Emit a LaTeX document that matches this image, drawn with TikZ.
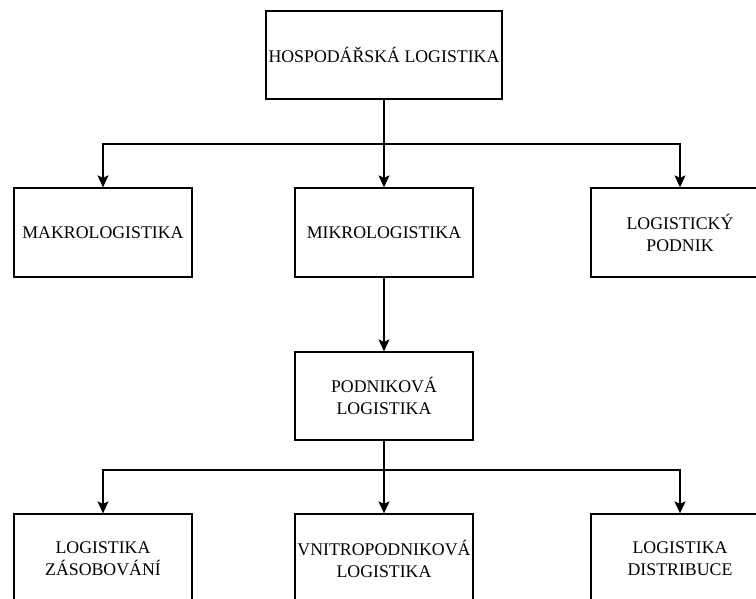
\documentclass[tikz,border=0pt]{standalone}
\usepackage{fontspec}
\setmainfont{Liberation Serif}
\usetikzlibrary{arrows.meta}
\begin{document}
\begin{tikzpicture}[x=1pt,y=-1pt,
  box/.style={draw, line width=1.3pt, rectangle, inner sep=0pt, minimum width=178pt, minimum height=89pt, align=center, font=\fontsize{17.8}{22}\selectfont},
  conn/.style={line width=1.3pt},
  arr/.style={line width=1.3pt, -{Stealth[length=12pt,width=11pt,inset=2.5pt]}}]
\useasboundingbox (0,0) rectangle (756,599);
\node[box, minimum width=236pt, minimum height=88pt] (top) at (384,55) {HOSPODÁŘSKÁ LOGISTIKA};
\node[box] (makro) at (103,232.5) {MAKROLOGISTIKA};
\node[box] (mikro) at (384,232.5) {MIKROLOGISTIKA};
\node[box] (podnik) at (680,232.5) {LOGISTICKÝ\\PODNIK};
\node[box, minimum height=88pt] (podlog) at (384,396) {PODNIKOVÁ\\LOGISTIKA};
\node[box] (zas) at (103,558.5) {LOGISTIKA\\ZÁSOBOVÁNÍ};
\node[box] (vnitro) at (384,558.5) {VNITROPODNIKOVÁ\\LOGISTIKA};
\node[box] (dist) at (680,558.5) {LOGISTIKA\\DISTRIBUCE};
\coordinate (j1) at (384,144);
\coordinate (j2) at (384,470);
\draw[conn] (top.south) -- (j1);
\draw[arr] (j1) -| (makro.north);
\draw[arr] (j1) -- (mikro.north);
\draw[arr] (j1) -| (podnik.north);
\draw[arr] (mikro.south) -- (podlog.north);
\draw[conn] (podlog.south) -- (j2);
\draw[arr] (j2) -| (zas.north);
\draw[arr] (j2) -- (vnitro.north);
\draw[arr] (j2) -| (dist.north);
\end{tikzpicture}
\end{document}
